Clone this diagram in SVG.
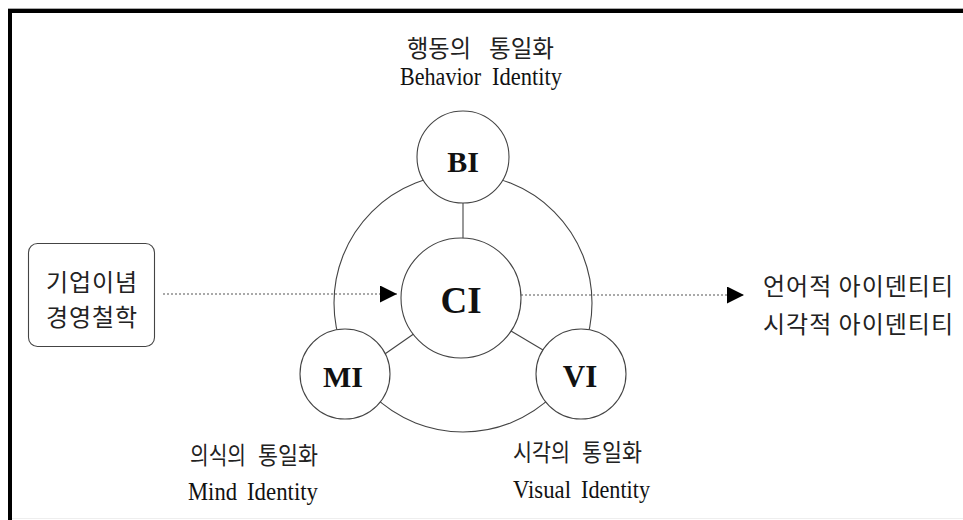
<svg xmlns="http://www.w3.org/2000/svg" width="963" height="520" viewBox="0 0 963 520">
<style>
.ko{font-family:"Noto Sans CJK KR","Noto Sans",sans-serif;font-size:24px;fill:#222}
.en{font-family:"Liberation Serif","Times New Roman",serif;font-size:25px;fill:#111}
.lbl{font-family:"Liberation Serif","Times New Roman",serif;font-weight:bold;fill:#111;text-anchor:middle}
.node{fill:#fff;stroke:#444;stroke-width:1.1}
.ring{fill:none;stroke:#444;stroke-width:1.1}
.line{stroke:#444;stroke-width:1.1}
.dot{stroke:#555;stroke-width:1.2;stroke-dasharray:2 2;fill:none}
</style>
<defs>
<marker id="arr" viewBox="0 0 10 10" refX="10" refY="5" markerWidth="17" markerHeight="17" markerUnits="userSpaceOnUse" orient="auto">
<path d="M0,0 L10,5 L0,10 Z" fill="#000"/>
</marker>
</defs>
<rect x="0" y="0" width="963" height="520" fill="#fff"/>
<g id="frame">
<line x1="8" y1="8.5" x2="963" y2="8.5" stroke="#aaa" stroke-width="1"/>
<rect x="8" y="9" width="955" height="4" fill="#000"/>
<rect x="8" y="9" width="4" height="511" fill="#000"/>
<line x1="12" y1="518.5" x2="963" y2="518.5" stroke="#eee" stroke-width="1"/>
</g>
<g id="connectors">
<circle class="ring" cx="463" cy="303" r="129"/>
<line class="line" x1="463" y1="203" x2="463" y2="239"/>
<line class="line" x1="415" y1="333" x2="382" y2="356"/>
<line class="line" x1="511" y1="331" x2="543" y2="350"/>
<line class="dot" x1="163" y1="294" x2="397" y2="294" marker-end="url(#arr)"/>
<line class="dot" x1="521" y1="295" x2="744" y2="295" marker-end="url(#arr)"/>
</g>
<g id="node-bi">
<circle class="node" cx="463" cy="157" r="46"/>
<text class="lbl" x="463" y="172" font-size="30">BI</text>
</g>
<g id="node-ci">
<circle class="node" cx="461" cy="298" r="60"/>
<text class="lbl" x="461" y="313" font-size="37">CI</text>
</g>
<g id="node-mi">
<circle class="node" cx="345" cy="374" r="45"/>
<text class="lbl" x="343" y="387" font-size="30">MI</text>
</g>
<g id="node-vi">
<circle class="node" cx="581" cy="374" r="45"/>
<text class="lbl" x="580" y="387" font-size="31">VI</text>
</g>
<g id="node-philosophy">
<rect x="28.5" y="243.5" width="126" height="103" rx="9" fill="#fff" stroke="#444" stroke-width="1.1"/>
<text class="ko" x="46" y="291" font-size="25" textLength="91">기업이념</text>
<text class="ko" x="46" y="326" font-size="25" textLength="91">경영철학</text>
</g>
<g id="label-bi">
<text class="ko" x="407" y="57"><tspan textLength="64" lengthAdjust="spacingAndGlyphs">행동의</tspan><tspan x="489" textLength="65" lengthAdjust="spacingAndGlyphs">통일화</tspan></text>
<text class="en" x="400" y="85"><tspan textLength="81" lengthAdjust="spacingAndGlyphs">Behavior</tspan><tspan x="492" textLength="70" lengthAdjust="spacingAndGlyphs">Identity</tspan></text>
</g>
<g id="label-mi">
<text class="ko" x="190" y="464"><tspan textLength="56" lengthAdjust="spacingAndGlyphs">의식의</tspan><tspan x="258" textLength="60" lengthAdjust="spacingAndGlyphs">통일화</tspan></text>
<text class="en" x="188" y="500"><tspan textLength="49" lengthAdjust="spacingAndGlyphs">Mind</tspan><tspan x="247" textLength="71" lengthAdjust="spacingAndGlyphs">Identity</tspan></text>
</g>
<g id="label-vi">
<text class="ko" x="513" y="461"><tspan textLength="57" lengthAdjust="spacingAndGlyphs">시각의</tspan><tspan x="582" textLength="60" lengthAdjust="spacingAndGlyphs">통일화</tspan></text>
<text class="en" x="513" y="498"><tspan textLength="58" lengthAdjust="spacingAndGlyphs">Visual</tspan><tspan x="581" textLength="69" lengthAdjust="spacingAndGlyphs">Identity</tspan></text>
</g>
<g id="node-output">
<text class="ko" x="763" y="295" font-size="25" textLength="190">언어적 아이덴티티</text>
<text class="ko" x="763" y="333" font-size="25" textLength="190">시각적 아이덴티티</text>
</g>
</svg>
